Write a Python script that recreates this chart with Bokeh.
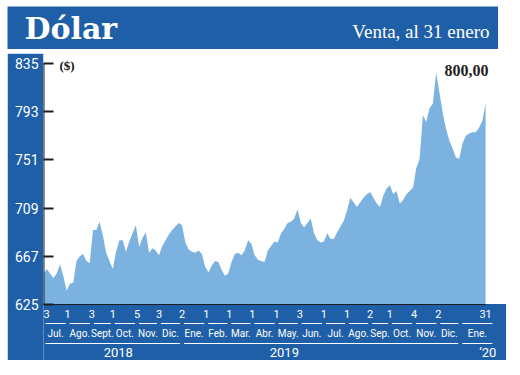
from bokeh.plotting import figure
from bokeh.layouts import column
from bokeh.models import Range1d, FixedTicker, ColumnDataSource, LabelSet, Label
from bokeh.core.properties import value
from bokeh.embed import file_html
from bokeh.resources import INLINE

# ---------------- data ----------------
title = "Dólar"
subtitle = "Venta, al 31 enero"
unit_label = "($)"
last_label = "800,00"

sample_step = 3  # trading days between readings
dolar = [652, 656, 652, 648, 652, 660, 650, 637, 643, 644,
         663, 667, 669, 663, 661, 690, 690, 697, 685, 670,
         663, 656, 671, 681, 681, 671, 680, 687, 694, 675,
         683, 688, 670, 674, 672, 668, 676, 681, 686, 690,
         693, 696, 694, 679, 673, 671, 670, 672, 669, 658,
         653, 659, 663, 662, 655, 650, 652, 662, 669, 670,
         668, 672, 681, 678, 668, 664, 663, 662, 672, 676,
         680, 679, 687, 691, 696, 697, 700, 708, 696, 692,
         696, 700, 687, 681, 679, 680, 687, 682, 682, 688,
         693, 698, 707, 718, 714, 710, 714, 718, 721, 723,
         718, 713, 710, 720, 726, 729, 721, 724, 713, 716,
         721, 724, 727, 744, 752, 790, 784, 796, 800, 827,
         810, 792, 778, 768, 761, 753, 752, 765, 772, 774,
         775, 775, 779, 785, 800]

y_ticks = [625, 667, 709, 751, 793, 835]

month_names = ["Jul.", "Ago.", "Sept.", "Oct.", "Nov.", "Dic.", "Ene.", "Feb.", "Mar.",
               "Abr.", "May.", "Jun.", "Jul.", "Ago.", "Sep.", "Oct.", "Nov.", "Dic.", "Ene."]
month_start = [0, 22, 44, 63, 85, 105, 126, 148, 169, 190, 212, 233, 255, 276, 297,
               315, 337, 359, 379]
day_labels = ["3", "1", "3", "1", "5", "3", "2", "1", "1", "1", "1", "3", "1", "1",
              "2", "1", "4", "2", ""]
end_day_label = "31"
axis_end = 410
years = ["2018", "2019", "\u201920"]
year_first_month = [0, 6, 18]
year_label_day = [68, 219, 404]

# ---------------- layout / style ----------------
BLUE = "#1f5fa7"
AREA = "#7bb2e0"
DARK = "#1e1e1e"
OX, OY = 6, 6          # reference origin of the chart box
W = 505 - OX           # main figure width
TOP = 53               # top of the main figure (reference page y)
H = 360 - TOP
LEFT = 42 - OX
FRAME_W = W - LEFT
X_END = 421
K = FRAME_W / X_END    # px per trading day

def fx(px):  # reference page x -> frame px
    return px - 42

def fy(py):  # reference page y -> frame px from bottom
    return 360 - py

s = (fy(63) - fy(304)) / (y_ticks[-1] - y_ticks[0])
y_start = y_ticks[0] - fy(304) / s
y_end = y_ticks[0] + (H - fy(304)) / s

x = [i * sample_step for i in range(len(dolar))]
end_day = x[-1]

# ---------------- header ----------------
HW, HH = 497 - OX, 49 - OY
hdr = figure(width=HW, height=HH, x_range=Range1d(0, HW), y_range=Range1d(0, HH),
             output_backend="svg", toolbar_location=None, x_axis_location=None,
             y_axis_location=None, min_border=0, background_fill_color=BLUE,
             border_fill_color=BLUE, outline_line_color=None)
hdr.grid.visible = False
hdr.add_layout(Label(x=23 - OX, y=49 - 45, text=title, text_color="white",
                     text_font="DejaVu Serif", text_font_style="bold",
                     text_font_size="30px", text_align="left", text_baseline="bottom"))
hdr.add_layout(Label(x=488 - OX, y=49 - 41, text=subtitle, text_color="white",
                     text_font="Liberation Serif", text_font_size="19px",
                     text_align="right", text_baseline="bottom"))

# ---------------- main chart ----------------
p = figure(width=W, height=H, x_range=Range1d(0, X_END), y_range=Range1d(y_start, y_end),
           output_backend="svg", toolbar_location=None, x_axis_location=None,
           y_axis_location="left", min_border_left=LEFT, min_border_right=0,
           min_border_top=0, min_border_bottom=0, background_fill_color="white",
           border_fill_color=BLUE, outline_line_color=None)
p.grid.visible = False
p.extra_x_ranges = {"px": Range1d(0, FRAME_W)}
p.extra_y_ranges = {"px": Range1d(0, H)}

for f in (hdr, p):
    if "frame_align" in f.properties():
        f.frame_align = False

# area
p.varea(x=x, y1=y_ticks[0], y2=dolar, color=AREA)

# bottom strip
p.quad(left=0, right=FRAME_W, bottom=0, top=fy(304), color=BLUE,
       x_range_name="px", y_range_name="px")

# axis lines
p.segment(x0=[0], y0=[y_ticks[0]], x1=[0], y1=[y_ticks[-1]], line_color=DARK, line_width=2)
p.segment(x0=[0], y0=[y_ticks[0]], x1=[end_day], y1=[y_ticks[0]], line_color=DARK, line_width=1.2)

# y axis
ax = p.yaxis[0]
ax.ticker = FixedTicker(ticks=y_ticks)
ax.axis_line_color = None
ax.major_tick_in = 10
ax.major_tick_out = 0
ax.major_tick_line_color = DARK
ax.major_tick_line_width = 2
ax.minor_tick_line_color = None
ax.major_label_text_color = "white"
ax.major_label_text_font = "Roboto"
ax.major_label_text_font_size = "14px"
ax.major_label_standoff = 5

# bottom labels
bounds = month_start + [axis_end]
gap = 2 / K
day_x = month_start[1:] + [end_day]
day_t = day_labels[1:] + [end_day_label]
day_src = ColumnDataSource(dict(x=day_x, y=[fy(313)] * len(day_x), t=day_t))
p.add_layout(LabelSet(x="x", y="y", text="t", source=day_src, y_range_name="px",
                      text_align="center", text_baseline="middle", text_color="white",
                      text_font=value("Roboto"), text_font_size="11px"))
p.add_layout(Label(x=month_start[0], y=fy(313), text=day_labels[0], y_range_name="px",
                   text_align="left", text_baseline="middle", text_color="white",
                   text_font="Roboto", text_font_size="11px"))

p.segment(x0=[b + gap for b in bounds[:-1]], x1=[b - gap for b in bounds[1:]],
          y0=[fy(323)] * len(month_start), y1=[fy(323)] * len(month_start),
          line_color="white", line_width=1, y_range_name="px")

mid = [(a + b) / 2 for a, b in zip(bounds[:-1], bounds[1:])]
mon_src = ColumnDataSource(dict(x=mid, y=[fy(333)] * len(mid), t=month_names))
p.add_layout(LabelSet(x="x", y="y", text="t", source=mon_src, y_range_name="px",
                      text_align="center", text_baseline="middle", text_color="white",
                      text_font=value("Roboto"), text_font_size="10px"))

ystarts = [bounds[i] for i in year_first_month]
yends = ystarts[1:] + [axis_end]
p.segment(x0=[a + gap for a in ystarts], x1=[b - gap for b in yends],
          y0=[fy(343)] * len(years), y1=[fy(343)] * len(years),
          line_color="white", line_width=1, y_range_name="px")
yr_src = ColumnDataSource(dict(x=year_label_day, y=[fy(352)] * len(years), t=years))
p.add_layout(LabelSet(x="x", y="y", text="t", source=yr_src, y_range_name="px",
                      text_align="center", text_baseline="middle", text_color="white",
                      text_font=value("Roboto"), text_font_size="13px"))

# in-chart labels
p.add_layout(Label(x=fx(58), y=fy(65), text=unit_label, x_range_name="px", y_range_name="px",
                   text_color="#111111", text_font="Liberation Serif", text_font_style="bold",
                   text_font_size="13px", text_align="left", text_baseline="middle"))
p.add_layout(Label(x=fx(487), y=fy(75.5), text=last_label, x_range_name="px", y_range_name="px",
                   text_color="#222222", text_font="Liberation Serif", text_font_style="bold",
                   text_font_size="16px", text_align="right", text_baseline="bottom"))

layout = column(hdr, p, spacing=TOP - 49, margin=(6, 0, 0, 7))
open("out.html", "w").write(file_html(layout, INLINE))
